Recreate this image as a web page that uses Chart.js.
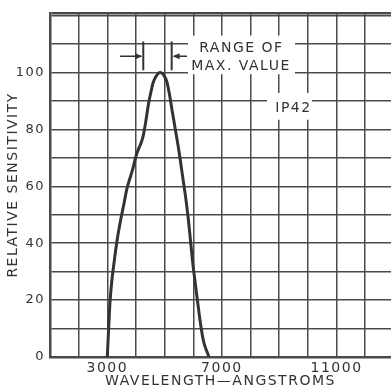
<!DOCTYPE html>
<html>
<head>
<meta charset="utf-8">
<script src="https://cdn.jsdelivr.net/npm/chart.js@4.4.1/dist/chart.umd.min.js"></script>
<style>
	html, body { margin: 0; padding: 0; background: #fff; }
	#wrap { width: 391px; height: 390px; }
</style>
</head>
<body>
<div id="wrap"><canvas id="chart"></canvas></div>
<script>
// spectral sensitivity curve
const wavelengths = [ 3000, 3023, 3058, 3093, 3151, 3233, 3326, 3442, 3581, 3698, 3872, 4023, 4221, 4330, 4430, 4530, 4640, 4837, 5035, 5151, 5267, 5384, 5500, 5616, 5733, 5826, 5907, 5988, 6081, 6163, 6256, 6372, 6547 ];
const sensitivity = [ 0, 5.2, 12.2, 19.1, 26.1, 33, 40, 46.9, 53.9, 59.7, 65.5, 71.3, 76.5, 82, 88.5, 93.5, 97.5, 100, 97.9, 93.3, 86.3, 79.4, 72.4, 64.3, 56.2, 48.5, 40.5, 32.5, 25, 18.5, 11.5, 5, 0 ];

const xTickLabels = [ 3000, 7000, 11000 ];
const yTickLabels = [ 0, 20, 40, 60, 80, 100 ];

const X_MIN = 1000;
const X_MAX = 12900;
const Y_MAX = 121;

const ink = '#333333';
const gridInk = '#4a4a4a';
const fontFamily = '"DejaVu Sans", sans-serif';

// grid every 1000 A and every 10 units
const xGrid = [];
for ( let v = X_MIN; v < X_MAX; v += 1000 ) {
	xGrid.push( v );
}
const yGrid = [];
for ( let v = 0; v <= 120; v += 10 ) {
	yGrid.push( v );
}
yGrid.push( Y_MAX );

// letter spacing gives the wide drafting-style lettering
const spacingPlugin = {
	id: 'spacing',
	beforeUpdate( chart ) {
		chart.ctx.letterSpacing = '1.5px';
	},
	beforeDraw( chart ) {
		chart.ctx.letterSpacing = '1.5px';
		const { ctx, width, height } = chart;
		ctx.save();
		ctx.fillStyle = '#ffffff';
		ctx.fillRect( 0, 0, width, height );
		ctx.restore();
	},
};

// "RANGE OF MAX. VALUE" marks and the curve label
const notesPlugin = {
	id: 'notes',
	afterDraw( chart ) {
		const { ctx } = chart;
		const xs = chart.scales.x;
		const ys = chart.scales.y;
		const px = v => xs.getPixelForValue( v );
		const py = v => ys.getPixelForValue( v );

		ctx.save();
		ctx.fillStyle = '#ffffff';
		ctx.fillRect( px( 5815 ), py( 113 ), px( 9549 ) - px( 5815 ), py( 99.4 ) - py( 113 ) );
		ctx.fillRect( px( 8572 ), py( 92.8 ), px( 10142 ) - px( 8572 ), py( 83.4 ) - py( 92.8 ) );

		ctx.fillStyle = ink;
		ctx.font = '14px ' + fontFamily;
		ctx.textAlign = 'center';
		ctx.textBaseline = 'middle';
		ctx.fillText( 'RANGE OF', px( 7680 ), py( 108.5 ) );
		ctx.fillText( 'MAX. VALUE', px( 7665 ), py( 102.3 ) );
		ctx.fillText( 'IP42', px( 9497 ), py( 87.3 ) );

		// range bars
		ctx.strokeStyle = ink;
		ctx.lineWidth = 2;
		ctx.beginPath();
		ctx.moveTo( px( 4255 ), py( 110.9 ) );
		ctx.lineTo( px( 4255 ), py( 100.8 ) );
		ctx.moveTo( px( 5246 ), py( 110.9 ) );
		ctx.lineTo( px( 5246 ), py( 100.8 ) );
		ctx.stroke();

		// arrows
		const ay = py( 105.7 );
		ctx.lineWidth = 1.5;
		ctx.beginPath();
		ctx.moveTo( px( 3442 ), ay );
		ctx.lineTo( px( 4255 ) - 2, ay );
		ctx.moveTo( px( 5780 ), ay );
		ctx.lineTo( px( 5246 ) + 2, ay );
		ctx.stroke();
		ctx.beginPath();
		ctx.moveTo( px( 4255 ) - 1, ay );
		ctx.lineTo( px( 4255 ) - 8, ay - 3 );
		ctx.lineTo( px( 4255 ) - 8, ay + 3 );
		ctx.closePath();
		ctx.moveTo( px( 5246 ) + 1, ay );
		ctx.lineTo( px( 5246 ) + 8, ay - 3 );
		ctx.lineTo( px( 5246 ) + 8, ay + 3 );
		ctx.closePath();
		ctx.fill();
		ctx.restore();
	},
};

const points = wavelengths.map( ( w, i ) => ( { x: w, y: sensitivity[ i ] } ) );

// eslint-disable-next-line no-new
new Chart( document.getElementById( 'chart' ), {
	type: 'line',
	data: {
		datasets: [
			{
				data: points,
				borderColor: ink,
				borderWidth: 3,
				pointRadius: 0,
				fill: false,
				tension: 0.4,
			},
		],
	},
	options: {
		responsive: true,
		maintainAspectRatio: false,
		animation: false,
		layout: { padding: { left: 0, top: 9, right: 0, bottom: 0 } },
		plugins: {
			legend: { display: false },
			tooltip: { enabled: false },
		},
		scales: {
			x: {
				type: 'linear',
				min: X_MIN,
				max: X_MAX,
				afterFit: scale => {
					scale.height = 33;
				},
				afterBuildTicks: scale => {
					scale.ticks = xGrid.map( v => ( { value: v } ) );
				},
				ticks: {
					autoSkip: false,
					maxRotation: 0,
					padding: 3,
					color: ink,
					font: { family: fontFamily, size: 14 },
					callback: v => ( xTickLabels.includes( v ) ? String( v ) : '' ),
				},
				grid: { color: gridInk, lineWidth: 1.5, drawTicks: false },
				border: { color: gridInk, width: 2.5 },
				title: {
					display: true,
					text: 'WAVELENGTH—ANGSTROMS',
					color: ink,
					font: { family: fontFamily, size: 14 },
					padding: { top: 0, bottom: 0 },
				},
			},
			y: {
				min: 0,
				max: Y_MAX,
				afterFit: scale => {
					scale.width = 50;
				},
				afterBuildTicks: scale => {
					scale.ticks = yGrid.map( v => ( { value: v } ) );
				},
				ticks: {
					autoSkip: false,
					padding: 5,
					color: ink,
					font: { family: fontFamily, size: 13 },
					callback: v => ( yTickLabels.includes( v ) ? String( v ) : '' ),
				},
				grid: {
					color: gridInk,
					lineWidth: ctx => ( ctx.tick && ctx.tick.value === Y_MAX ? 2.5 : 1.5 ),
					drawTicks: false,
				},
				border: { color: gridInk, width: 2.5 },
				title: {
					display: true,
					text: 'RELATIVE SENSITIVITY',
					color: ink,
					font: { family: fontFamily, size: 14 },
					padding: { top: 5, bottom: 0 },
				},
			},
		},
	},
	plugins: [ spacingPlugin, notesPlugin ],
} );
</script>
</body>
</html>
